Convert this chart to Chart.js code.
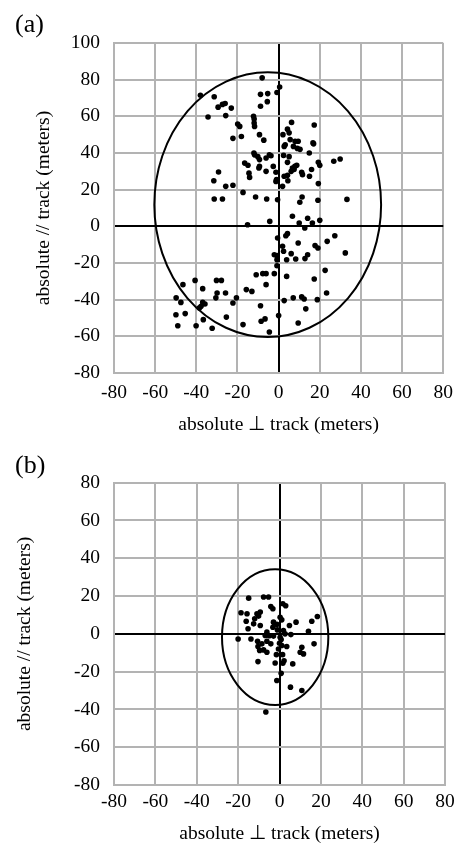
<!DOCTYPE html>
<html>
<head>
<meta charset="utf-8">
<script src="https://cdn.jsdelivr.net/npm/chart.js@4/dist/chart.umd.min.js"></script>
<style>
body { margin: 0; background: #fff; }
.box { position: relative; width: 461px; }
#boxA { height: 445px; }
#boxB { height: 402px; }
</style>
</head>
<body>
<div class="box" id="boxA"><canvas id="chartA"></canvas></div>
<div class="box" id="boxB"><canvas id="chartB"></canvas></div>
<script>
// panel (a) - absolute error, perpendicular / along track (meters)
const perpA = [-8, -38, -31.3, 0.5, -8.8, -5.3, -0.8, -5.5, -29.4, -27.3, -26, -23, -34.3, -25.7, -12.2, -11.9, -8.8,
    -19.9, -18.9, -11.9, -11.7, 6.3, 17.3, 4.3, 5.1, -22.2, -18.1, -9.3, -7.2, 2.1, 2.7, 3.2, 5.6, 8, 9.5, 16.7, 17,
    7.2, 9.1, 10.4, 14.9, -12, -11.7, -16.5, -14.9, -10.1, -9.3, -9.3, -9.6, -4.5, -3.7, 2.4, 5.1, -6.1, -2.6, -6.1,
    -14.4, -14.1, 4.3, 6.7, 7.9, 8.8, 6.1, 7.5, 11.2, 11.6, 15, 16, 19.3, 20, 26.8, 29.9, -1.3, -1, -1.3, 2.7, 4.3,
    4.5, 1.9, 19.3, -29.2, -31.5, -25.7, -22.2, -17.3,
    -31.3, -27.3, -11.2, -5.8, -0.5, 11.4, 10.3, 19.1, 33.2, -15.1, -4.3, 6.7, 10, 12.7, 14.1, 16.4, 20, -0.5, 3.5,
    4.3, 9.5, 1.9, 2.4, -2.1, -0.8, 3.9, 6.1, 8.3, 12.8, 14.1, 17.7, 19.1, 23.6, 27.3, 32.4, -0.8, -0.8, 22.6, -10.9,
    -7.7, -6.1, -2.1, 3.9, 17.3, -15.7, -13, -6.1, 23.3, 2.7, 7.1, 11.2, 12.4, 18.8, 13.2, -8.8, 0, 9.5, -8.5, -6.6,
    -4.5, -17.3, -25.4, -22.2, -20.5, -25.8, -30.5, -29.9, -30.2, -27.8, -36.9, -40.6, -46.5, -49.8, -47.5, -36.9,
    -35.8, -37.7, -38.5, -45.4, -49.9, -49, -40.1, -36.6, -32.3];
const alongA = [81, 71.5, 70.7, 76, 72, 72.4, 73, 68, 65, 66.5, 67, 64.5, 59.6, 60.4, 60, 58.5, 65.5,
    55.8, 54.5, 56.4, 54.5, 56.7, 55.3, 53, 51, 48, 49, 50, 47, 50, 43.6, 44.5, 47.3, 46.4, 46.4, 45.5, 45,
    43.6, 42.5, 42, 40, 40, 39, 34.5, 33.3, 38, 36.4, 32.7, 31.8, 39, 38.5, 38.7, 38, 37.3, 32.7, 30,
    29, 26.7, 34.9, 31.8, 32.7, 33.3, 30, 31, 29.5, 28.2, 27.3, 31, 34.9, 33.3, 35.5, 36.7, 29.5, 25.5, 24.5, 27.3, 27.8,
    24.9, 21.8, 23.3, 29.6, 24.9, 21.8, 22.4, 18.5,
    14.9, 14.9, 16, 14.9, 14.5, 16, 13.1, 14.2, 14.7, 0.9, 2.7, 5.5, 1.8, -0.9, 4.4, 1.8, 3.3, -6.4, -5.1,
    -4, -9.1, -10.9, -13.6, -15.5, -16, -18.2, -14.9, -17.8, -17.6, -15.5, -10.5, -11.8, -8.2, -5.1, -14.5, -18.2, -21.5, -24, -26.4,
    -25.8, -25.8, -25.8, -27.3, -28.7, -34.5, -35.5, -31.8, -36.4, -40.5, -39, -38.5, -39.6, -40, -45, -43.3, -48.7, -52.7, -51.8, -50.5,
    -57.6, -53.6, -49.5, -41.8, -39, -36.4, -39, -36.4, -29.5, -29.5, -34, -29.5, -31.8, -39, -41.5, -41.5,
    -42.4, -43.6, -44.5, -47.6, -48.2, -54.2, -54.2, -50.9, -55.6];
// centre x, centre y, half width, half height
const ellipseA = [-5.3, 11.8, 55.1, 72.2];
const yRangeA = [-80, 100];

// panel (b)
const perpB = [-14.9, -7.7, -5.3, 1.6, 3, -4.2, -3.2, -18.6, -15.7, -10.9, -9.3, -10.1, -12, -16.1, -12.5, -9.3,
    -15.2, -2.9, -1.3, 0.3, 1.1, -3.2, -1, 4.8, 8, 18.3, 15.6, 14, -6.1, -6.9, 1.9, 2.7, 5.5, -2.9, 0.3, -20, -13.8,
    -10.6, -8.5, -6.1, -4.2, 0, 1.1, 3.5, -10.4, -7.7, -6.1, -9.6, 10.8, 10, 11.6, 16.7, -0.5, 2.2, -10.4, -2.1, 6.4,
    1.6, 0.8, -1.3, 5.3, 10.8, -6.6, 0.8, 1.5, -1.5, -5];
const alongB = [18.9, 19.5, 19.5, 15.9, 14.9, 14.5, 13.3, 11.2, 10.6, 10.6, 11.5, 9.4, 8, 6.7, 5.3, 4.4,
    2.7, 6.2, 5, 8.8, 7.4, 3.5, 2.1, 4.4, 6.2, 9.2, 6.7, 1.4, 0.9, -0.9, 1.8, 0, -0.4, -1.2, -1.8, -2.7, -2.7,
    -3.9, -5.3, -3.9, -5.3, -5, -6.2, -6.7, -6.7, -8.5, -9.7, -8.8, -7.1, -9.7, -10.6, -5.3, -8, -14.2, -14.7, -15.4, -15.9,
    -15.6, -20.9, -24.7, -28.2, -30, -41.4, -3, -11, -11, -1];
const ellipseB = [-2.1, -1.7, 25.7, 35.9];
const yRangeB = [-80, 80];

const xRange = [-80, 80];
const tickStep = 20;

Chart.defaults.font.family = "'Liberation Serif', 'Times New Roman', serif";
Chart.defaults.color = "#000";

const gridGrey = "#b3b3b3";

// fitted error ellipse, placed through the chart scales
const ellipsePlugin = {
    id: "ellipse",
    beforeDatasetsDraw(chart, args, opts) {
        const e = opts.e;
        const sx = chart.scales.x;
        const sy = chart.scales.y;
        const cx = sx.getPixelForValue(e[0]);
        const cy = sy.getPixelForValue(e[1]);
        const rx = sx.getPixelForValue(e[0] + e[2]) - cx;
        const ry = cy - sy.getPixelForValue(e[1] + e[3]);
        const ctx = chart.ctx;
        ctx.save();
        ctx.beginPath();
        ctx.ellipse(cx, cy, rx, ry, 0, 0, Math.PI * 2);
        ctx.lineWidth = 2;
        ctx.strokeStyle = "#000";
        ctx.stroke();
        ctx.restore();
    },
};

function makeChart(id, label, perp, along, yRange, ellipse, lay) {
    return new Chart(document.getElementById(id), {
        type: "scatter",
        data: {
            datasets: [
                {
                    data: perp.map((v, i) => ({ x: v, y: along[i] })),
                    backgroundColor: "#000",
                    borderWidth: 0,
                    pointRadius: 2.8,
                },
            ],
        },
        options: {
            responsive: true,
            maintainAspectRatio: false,
            animation: false,
            layout: { padding: { left: 15, right: 16, top: 0, bottom: 0 } },
            scales: {
                x: {
                    type: "linear",
                    min: xRange[0],
                    max: xRange[1],
                    ticks: { stepSize: tickStep, padding: lay.xTickPad, font: { size: 19.5 } },
                    grid: {
                        color: (c) => (c.tick.value === 0 ? "#000" : gridGrey),
                        lineWidth: 2,
                        drawTicks: false,
                    },
                    border: { color: gridGrey, width: 2 },
                    title: {
                        display: true,
                        text: "absolute ⊥ track (meters)",
                        font: { size: 19.5 },
                        padding: { top: 0, bottom: lay.xTitlePad },
                    },
                    afterFit: (s) => {
                        s.height = lay.xHeight;
                    },
                },
                y: {
                    type: "linear",
                    min: yRange[0],
                    max: yRange[1],
                    ticks: { stepSize: tickStep, padding: 14, font: { size: 19.5 } },
                    grid: {
                        color: (c) => (c.tick.value === 0 ? "#000" : gridGrey),
                        lineWidth: 2,
                        drawTicks: false,
                    },
                    border: { color: gridGrey, width: 2 },
                    title: {
                        display: true,
                        text: "absolute // track (meters)",
                        font: { size: 19.5, lineHeight: 1 },
                        padding: { top: lay.yTitlePad, bottom: 0 },
                    },
                    afterFit: (s) => {
                        s.width = 99;
                    },
                },
            },
            plugins: {
                legend: { display: false },
                tooltip: { enabled: false },
                title: {
                    display: true,
                    text: label,
                    align: "start",
                    font: { size: 26, weight: "normal" },
                    padding: { top: lay.titleTop, bottom: lay.titleBottom },
                },
                ellipse: { e: ellipse },
            },
        },
        plugins: [ellipsePlugin],
    });
}

makeChart("chartA", "(a)", perpA, alongA, yRangeA, ellipseA,
    { titleTop: 10, titleBottom: 1.8, xTickPad: 8, xTitlePad: 8, xHeight: 72, yTitlePad: 19 });
makeChart("chartB", "(b)", perpB, alongB, yRangeB, ellipseB,
    { titleTop: 6, titleBottom: 0.5, xTickPad: 5, xTitlePad: 1, xHeight: 62, yTitlePad: 0 });
</script>
</body>
</html>
